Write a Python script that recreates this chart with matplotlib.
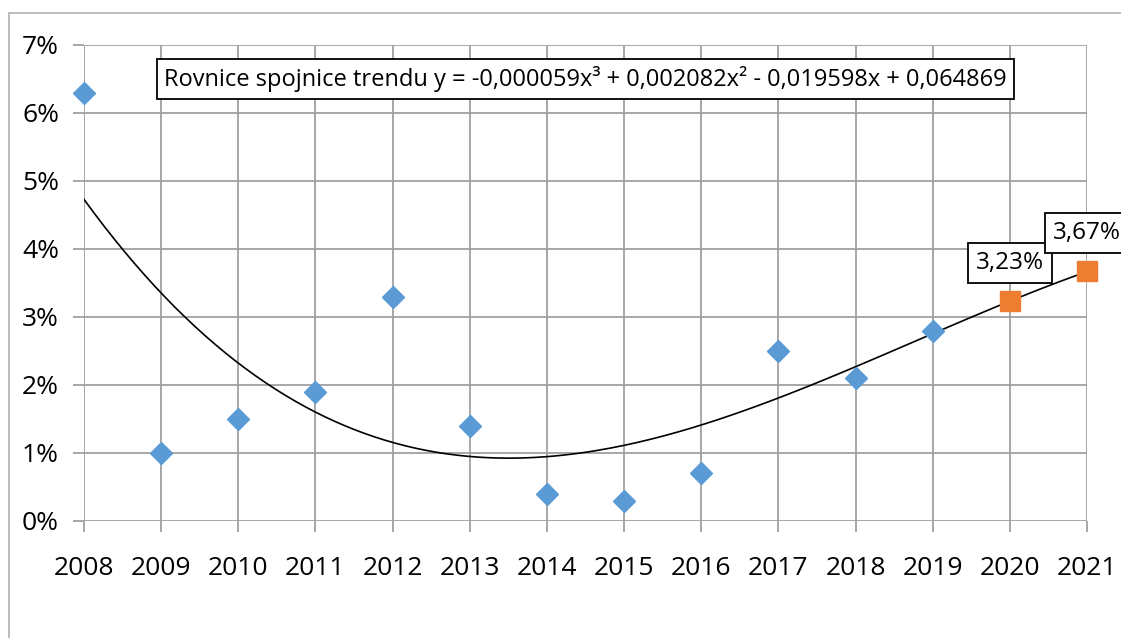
import numpy as np
import matplotlib
matplotlib.use('Agg')
import matplotlib.pyplot as plt
from matplotlib.patches import Rectangle
from matplotlib.ticker import FuncFormatter

plt.rcParams['font.family'] = ['Open Sans', 'DejaVu Sans']

# data
years = [2008, 2009, 2010, 2011, 2012, 2013, 2014, 2015, 2016, 2017, 2018, 2019]
values = [6.3, 1.0, 1.5, 1.9, 3.3, 1.4, 0.4, 0.3, 0.7, 2.5, 2.1, 2.8]
forecast_years = [2020, 2021]
forecast_values = [3.23, 3.67]
forecast_labels = ['3,23%', '3,67%']
# trend coefficients, x = 1 for 2008
trend_coef = [-0.000059, 0.002082, -0.019598, 0.064869]
trend_text = 'Rovnice spojnice trendu y = -0,000059x³ + 0,002082x² - 0,019598x + 0,064869'

grid_c = '#a0a0a0'
blue = '#5b9bd5'
orange = '#ed7d31'

fig = plt.figure(figsize=(11.21, 6.38), dpi=100)
fig.patches.append(Rectangle((9 / 1121, -0.1), 1.2, 1 - 13 / 638 + 0.1,
                             transform=fig.transFigure, fill=False,
                             edgecolor='#b0b0b0', linewidth=1.2))
ax = fig.add_axes([84 / 1121, 1 - 521 / 638, (1087 - 84) / 1121, (521 - 45) / 638])

# trend line
xs = np.linspace(2008, 2021, 300)
ys = np.polyval(trend_coef, xs - 2007) * 100
ax.plot(xs, ys, color='black', linewidth=1.2, zorder=3)

ax.plot(years, values, linestyle='none', marker='D', markersize=10.8,
        color=blue, zorder=4, clip_on=False)
ax.plot(forecast_years, forecast_values, linestyle='none', marker='s',
        markersize=14, color=orange, zorder=4, clip_on=False)

for x, y, lab in zip(forecast_years, forecast_values, forecast_labels):
    ax.annotate(lab, (x, y), xytext=(0, 27.5), textcoords='offset points',
                ha='center', va='center', fontsize=17.5, zorder=5,
                bbox=dict(boxstyle='square,pad=0.32', fc='white', ec='black', lw=1.3),
                annotation_clip=False)

ax.text(0.5, 0.9286, trend_text, transform=ax.transAxes, ha='center', va='center',
        fontsize=17, zorder=5,
        bbox=dict(boxstyle='square,pad=0.3', fc='white', ec='black', lw=1.3))

ax.set_xlim(2008, 2021)
ax.set_ylim(0, 7)
ax.set_xticks(range(2008, 2022))
ax.set_yticks(range(0, 8))
ax.yaxis.set_major_formatter(FuncFormatter(lambda v, p: f'{int(v)}%'))
ax.grid(True, color=grid_c, linewidth=1.3)
ax.set_axisbelow(True)
for s in ax.spines.values():
    s.set_visible(False)
ax.tick_params(axis='both', color=grid_c, width=1.3, length=8, labelsize=19)
ax.tick_params(axis='x', pad=17)
ax.tick_params(axis='y', pad=10)

fig.savefig('out.png', dpi=100)
